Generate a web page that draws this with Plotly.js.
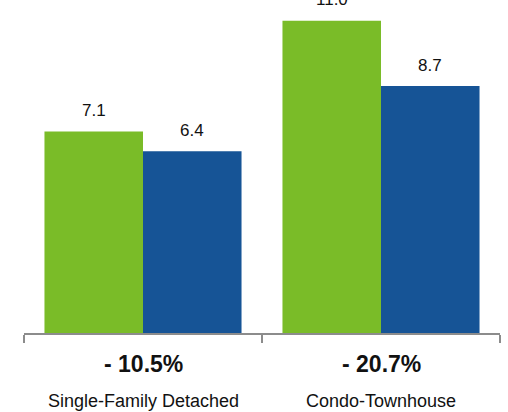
<!DOCTYPE html>
<html>
<head>
<meta charset="utf-8">
<script src="https://cdn.plot.ly/plotly-3.0.1.min.js"></script>
<style>html,body{margin:0;padding:0;background:#fff;}#chart{width:508px;height:412px;}</style>
</head>
<body>
<div id="chart"></div>
<script>
var categories = ["Single-Family Detached", "Condo-Townhouse"];
var seriesA = [7.1, 11.0];
var seriesB = [6.4, 8.7];
var changeLabels = ["- 10.5%", "- 20.7%"];

var greenColor = "#7abc28";
var blueColor = "#165496";
var fontFam = "Liberation Sans, Arial, Helvetica, sans-serif";

var traces = [
  {type: "bar", x: categories, y: seriesA, marker: {color: greenColor}, hoverinfo: "skip"},
  {type: "bar", x: categories, y: seriesB, marker: {color: blueColor}, hoverinfo: "skip"}
];

var annotations = [];
function valueLabels(vals, offsetIdx) {
  vals.forEach(function (v, i) {
    annotations.push({
      x: categories[i], y: v, xref: "x", yref: "y",
      text: v.toFixed(1), showarrow: false,
      xshift: offsetIdx === 0 ? -49 : 49,
      yshift: 21, yanchor: "middle",
      font: {family: fontFam, size: 17, color: "#111"}
    });
  });
}
valueLabels(seriesA, 0);
valueLabels(seriesB, 1);
categories.forEach(function (c, i) {
  annotations.push({
    x: c, y: 0, xref: "x", yref: "paper", showarrow: false,
    text: "<b>" + changeLabels[i] + "</b>", yanchor: "middle", yshift: -31,
    font: {family: fontFam, size: 23, color: "#111"}
  });
  annotations.push({
    x: c, y: 0, xref: "x", yref: "paper", showarrow: false,
    text: c, yanchor: "middle", yshift: -68,
    font: {family: fontFam, size: 18, color: "#111"}
  });
});

var layout = {
  width: 508, height: 412,
  margin: {l: 24, r: 8, t: 0, b: 79},
  paper_bgcolor: "#fff", plot_bgcolor: "#fff",
  barmode: "group", bargap: 0.172, bargroupgap: 0,
  showlegend: false,
  xaxis: {
    type: "category", showline: true, linecolor: "#8c8c8c", linewidth: 2,
    ticks: "outside", tickson: "boundaries", ticklen: 8, tickwidth: 2, tickcolor: "#8c8c8c",
    showticklabels: false, showgrid: false, zeroline: false, fixedrange: true
  },
  yaxis: {
    range: [0, 11.73], visible: false, showgrid: false, zeroline: false, fixedrange: true
  },
  annotations: annotations
};

Plotly.newPlot("chart", traces, layout, {displayModeBar: false, staticPlot: true});
</script>
</body>
</html>
